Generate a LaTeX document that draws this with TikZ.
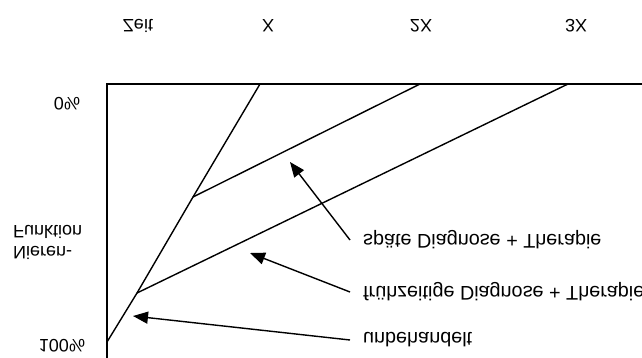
\documentclass[tikz,border=0pt]{standalone}
\usepackage{graphicx}
\usepackage{fontspec}
\setmainfont{Liberation Sans}
\usetikzlibrary{arrows.meta}

\newcommand{\flip}[1]{\scalebox{1}[-1]{#1}}

\begin{document}
\begin{tikzpicture}[x=1pt,y=-1pt,
  lbl/.style={font=\fontsize{18}{20}\selectfont,inner sep=0pt},
  note/.style={font=\fontsize{19.8}{22}\selectfont,inner sep=0pt,anchor=west,inner xsep=13pt},
  curve/.style={line width=1.4pt},
  pointer/.style={line width=1.4pt,-{Triangle[length=15pt,width=12pt]}}]
  \useasboundingbox (0,0) rectangle (642,358);

  % frame
  \draw[line width=1.8pt] (107,358) -- (107,84) -- (642,84);

  % time axis
  \node[lbl] (zeit) at (138,26) {\flip{Zeit}};
  \node[lbl] (x1) at (268,26) {\flip{X}};
  \node[lbl] (x2) at (421,26) {\flip{2X}};
  \node[lbl] (x3) at (576,26) {\flip{3X}};

  % function axis
  \node[lbl] (nullp) at (67,104) {\flip{0\%}};
  \node[lbl] (hundp) at (62,346) {\flip{100\%}};
  \node[lbl,anchor=west] (funk) at (13,232) {\flip{Funktion}};
  \node[lbl,anchor=west] (nier) at (13,253) {\flip{Nieren-}};

  % courses
  \coordinate (start) at (107,342);
  \coordinate (kinkF) at (137,293);
  \coordinate (kinkS) at (193,197);
  \draw[curve] (start) -- (kinkF) -- (kinkS) -- (260,84);
  \draw[curve] (kinkF) -- (568,84);
  \draw[curve] (kinkS) -- (420,84);

  % labels
  \node[note] (spaet) at (350,240) {\flip{späte Diagnose + Therapie}};
  \node[note] (frueh) at (350,292) {\flip{frühzeitige Diagnose + Therapie}};
  \node[note] (unbeh) at (350,340) {\flip{unbehandelt}};

  \coordinate (tipS) at (290,162);
  \coordinate (tipF) at (250,253);
  \coordinate (tipU) at (133,316);
  \draw[pointer] (spaet.west) -- (tipS);
  \draw[pointer] (frueh.west) -- (tipF);
  \draw[pointer] (unbeh.west) -- (tipU);
\end{tikzpicture}
\end{document}
